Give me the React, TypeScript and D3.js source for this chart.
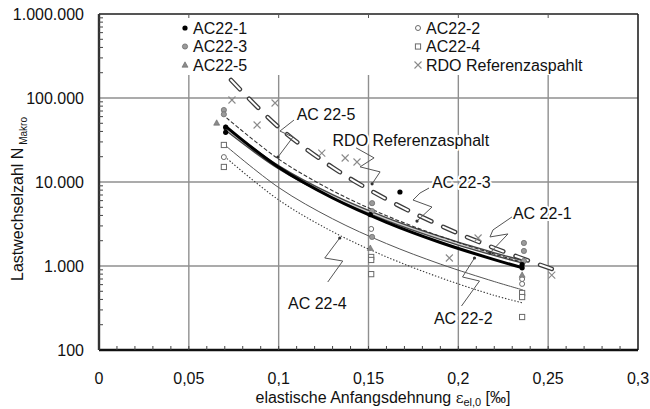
import React from 'react';
import * as d3 from 'd3';

// ---------- data ----------
const X_TICKS = [0, 0.05, 0.1, 0.15, 0.2, 0.25, 0.3];
const X_TICK_LABELS = ['0', '0,05', '0,1', '0,15', '0,2', '0,25', '0,3'];
const Y_TICKS = [100, 1000, 10000, 100000, 1000000];
const Y_TICK_LABELS = ['100', '1.000', '10.000', '100.000', '1.000.000'];

// fitted curves [strain, N]
const CURVE_AC22_1 = [[0.07, 47000], [0.1, 14950], [0.13, 6445], [0.16, 3309], [0.19, 1905], [0.22, 1191], [0.236, 950]];
const CURVE_AC22_3 = [[0.07, 44000], [0.1, 14980], [0.13, 6789], [0.16, 3624], [0.19, 2156], [0.22, 1386], [0.236, 1120]];
const CURVE_AC22_5 = [[0.071, 58000], [0.1, 18740], [0.13, 7882], [0.16, 3971], [0.19, 2252], [0.22, 1388], [0.236, 1100]];
const CURVE_AC22_2 = [[0.07, 27600], [0.1, 8597], [0.13, 3646], [0.16, 1849], [0.19, 1054], [0.22, 653], [0.236, 518]];
const CURVE_AC22_4 = [[0.07, 20000], [0.1, 6120], [0.13, 2562], [0.16, 1286], [0.19, 726], [0.22, 447], [0.236, 363]];
const CURVE_RDO = [[0.0735, 163700], [0.1, 44940], [0.13, 14930], [0.16, 6244], [0.19, 3031], [0.22, 1637], [0.252, 923]];

// measured points [strain, N]
const PTS_AC22_1 = [[0.0705, 45000], [0.0705, 39000], [0.151, 4100], [0.1675, 7600], [0.2355, 950], [0.2355, 1040]];
const PTS_AC22_3 = [[0.0695, 72000], [0.0695, 64000], [0.152, 5600], [0.152, 4500], [0.152, 2220], [0.2365, 1880], [0.2365, 1510], [0.2365, 1150]];
const PTS_AC22_5 = [[0.0655, 50400], [0.151, 1630], [0.2355, 780]];
const PTS_AC22_2 = [[0.0695, 19800], [0.1515, 2760], [0.2355, 612], [0.2355, 700]];
const PTS_AC22_4 = [[0.0695, 27600], [0.0695, 15100], [0.1515, 1280], [0.1515, 1180], [0.1515, 800], [0.2355, 477], [0.2355, 427], [0.2355, 247]];
const PTS_RDO = [[0.074, 94700], [0.088, 47700], [0.098, 87200], [0.124, 22100], [0.137, 19300], [0.1436, 17300], [0.195, 1245], [0.211, 2154], [0.252, 781]];

// annotations: label, label anchor [strain, N], target [strain, N], zigzag offsets (px, relative to target)
const ANN_LABELS = ['AC 22-5', 'RDO Referenzasphalt', 'AC 22-3', 'AC 22-1', 'AC 22-4', 'AC 22-2'];
const ANN_POS = [[0.110, 64500], [0.130, 31600], [0.1853, 10000], [0.2304, 4275], [0.1052, 363], [0.1864, 240]];
const ANN_TARGET = [[0.0996, 19800], [0.152, 9500], [0.177, 3430], [0.2176, 1430], [0.134, 2154], [0.209, 1245]];
const ANN_ZIG = [
  [[16, -37], [2, -26], [15, -20], [0, 0]],
  [[-16, -36], [2, -26], [-12, -17], [8, -12], [0, 0]],
  [[12, -33], [3, -28], [-4, -21], [15, -14], [0, 0]],
  [[22, -36], [3, -23], [0, -16], [18, -19], [0, 0]],
  [[-12, 44], [3, 23], [-15, 20], [0, 0]],
  [[-13, 48], [5, 23], [-12, 19], [0, 0]],
];

const LEGEND_NAMES = ['AC22-1', 'AC22-3', 'AC22-5', 'AC22-2', 'AC22-4', 'RDO Referenzaspahlt'];

// ---------- layout ----------
const W = 650, H = 409;
const L = 99, R = 638, T = 14, B = 350;
const FONT = 'Liberation Sans, Arial, Helvetica, sans-serif';

const x = d3.scaleLinear().domain([0, 0.3]).range([L, R]);
const y = d3.scaleLog().domain([100, 1000000]).range([B, T]);

const line = d3.line<number[]>().x(d => x(d[0])).y(d => y(d[1])).curve(d3.curveCatmullRom.alpha(0.5));

function Marker({ kind, cx, cy }: { kind: string; cx: number; cy: number }) {
  if (kind === 'black') return <circle cx={cx} cy={cy} r={2.6} fill="#000" />;
  if (kind === 'gray') return <circle cx={cx} cy={cy} r={2.6} fill="#9a9a9a" stroke="#6f6f6f" strokeWidth={0.8} />;
  if (kind === 'tri') return <path d={`M${cx},${cy - 3.2}L${cx + 3},${cy + 2.2}L${cx - 3},${cy + 2.2}Z`} fill="#8a8a8a" stroke="#666" strokeWidth={0.6} />;
  if (kind === 'ocircle') return <circle cx={cx} cy={cy} r={2.5} fill="#fff" stroke="#6a6a6a" strokeWidth={1} />;
  if (kind === 'osquare') return <rect x={cx - 2.6} y={cy - 2.6} width={5.2} height={5.2} fill="#fff" stroke="#6a6a6a" strokeWidth={1} />;
  // cross
  return <path d={`M${cx - 3.5},${cy - 3.5}L${cx + 3.5},${cy + 3.5}M${cx - 3.5},${cy + 3.5}L${cx + 3.5},${cy - 3.5}`} stroke="#8a8a8a" strokeWidth={1.1} fill="none" />;
}

export default function App() {
  const minorY: number[] = [];
  for (let d = 100; d < 1000000; d *= 10) for (let k = 2; k <= 9; k++) minorY.push(k * d);
  const minorX = d3.range(1, 30).map(i => i / 100);
  const legendTop = 75;

  const seriesPts: [number[][], string][] = [
    [PTS_AC22_4, 'osquare'], [PTS_AC22_2, 'ocircle'], [PTS_AC22_5, 'tri'],
    [PTS_AC22_3, 'gray'], [PTS_AC22_1, 'black'], [PTS_RDO, 'cross'],
  ];
  const legendKinds = ['black', 'gray', 'tri', 'ocircle', 'osquare', 'cross'];

  return (
    <svg width={W} height={H} style={{ position: 'absolute', left: 0, top: 0, background: '#fff' }} fontFamily={FONT}>
      <rect width={W} height={H} fill="#fff" />
      {/* grid */}
      {X_TICKS.slice(1, -1).map(v => (
        <line key={'gx' + v} x1={x(v)} x2={x(v)} y1={legendTop} y2={B} stroke="#8f8f8f" strokeWidth={1.4} />
      ))}
      {Y_TICKS.slice(1, -1).map(v => (
        <line key={'gy' + v} x1={L} x2={R} y1={y(v)} y2={y(v)} stroke="#8f8f8f" strokeWidth={1.4} />
      ))}

      {/* curves */}
      <path d={line(CURVE_AC22_4) || ''} fill="none" stroke="#3a3a3a" strokeWidth={1.1} strokeDasharray="1.4,1.8" />
      <path d={line(CURVE_AC22_2) || ''} fill="none" stroke="#555" strokeWidth={1} />
      <path d={line(CURVE_AC22_3) || ''} fill="none" stroke="#444" strokeWidth={4} />
      <path d={line(CURVE_AC22_3) || ''} fill="none" stroke="#cfcfcf" strokeWidth={1.4} />
      <path d={line(CURVE_AC22_1) || ''} fill="none" stroke="#000" strokeWidth={3} />
      <path d={line(CURVE_AC22_5) || ''} fill="none" stroke="#333" strokeWidth={1.1} strokeDasharray="4,2" />
      <path d={line(CURVE_RDO) || ''} fill="none" stroke="#3c3c3c" strokeWidth={4.6} strokeDasharray="13,13" strokeLinecap="round" />
      <path d={line(CURVE_RDO) || ''} fill="none" stroke="#fff" strokeWidth={2} strokeDasharray="13,13" strokeLinecap="round" />

      {/* points */}
      {seriesPts.map(([pts, kind], si) =>
        pts.map((p, i) => <Marker key={si + '-' + i} kind={kind} cx={x(p[0])} cy={y(p[1])} />)
      )}

      {/* annotations */}
      {ANN_LABELS.map((lab, i) => {
        const tx = x(ANN_TARGET[i][0]);
        const ty = y(ANN_TARGET[i][1]);
        const d = ANN_ZIG[i].map((o, j) => (j ? 'L' : 'M') + (tx + o[0]) + ',' + (ty + o[1])).join('');
        return (
          <g key={'a' + i}>
            <text x={x(ANN_POS[i][0])} y={y(ANN_POS[i][1])} dy="0.36em" fontSize={16} fill="#111"
              stroke="#fff" strokeWidth={4} paintOrder="stroke" strokeLinejoin="round">{lab}</text>
            <path d={d} fill="none" stroke="#555" strokeWidth={1} />
            <circle cx={tx} cy={ty} r={1.6} fill="#333" />
          </g>
        );
      })}

      {/* frame */}
      <line x1={L} x2={R} y1={T} y2={T} stroke="#555" strokeWidth={1.8} />
      <line x1={R} x2={R} y1={T} y2={B} stroke="#222" strokeWidth={1.6} />
      <line x1={L} x2={R} y1={B} y2={B} stroke="#111" strokeWidth={2.4} />
      <line x1={L} x2={L} y1={T} y2={B} stroke="#333" strokeWidth={2.4} />

      {/* ticks */}
      {minorY.map(v => <line key={'my' + v} x1={L} x2={L + 4} y1={y(v)} y2={y(v)} stroke="#444" strokeWidth={1} />)}
      {minorX.map(v => <line key={'mx' + v} x1={x(v)} x2={x(v)} y1={B} y2={B - 4} stroke="#444" strokeWidth={1} />)}
      {X_TICKS.slice(1, -1).map(v => <line key={'tx' + v} x1={x(v)} x2={x(v)} y1={T} y2={T + 4} stroke="#555" strokeWidth={1} />)}

      {/* tick labels */}
      {Y_TICKS.map((v, i) => (
        <text key={'yl' + v} x={L - 15} y={y(v)} dy="0.36em" textAnchor="end" fontSize={16} fill="#111">{Y_TICK_LABELS[i]}</text>
      ))}
      {X_TICKS.map((v, i) => (
        <text key={'xl' + v} x={x(v)} y={378} dy="0.36em" textAnchor="middle" fontSize={16} fill="#111">{X_TICK_LABELS[i]}</text>
      ))}

      {/* axis titles */}
      <text x={383} y={397} dy="0.36em" textAnchor="middle" fontSize={16} fill="#111">
        elastische Anfangsdehnung <tspan fontFamily="DejaVu Serif, serif" fontSize={15}>ε</tspan>
        <tspan fontSize={11} dy="3">el,0</tspan><tspan dy="-3"> [‰]</tspan>
      </text>
      <text transform={`translate(17,199) rotate(-90)`} textAnchor="middle" dy="0.36em" fontSize={16} fill="#111">
        Lastwechselzahl N<tspan fontSize={10} dy="4"> Makro</tspan>
      </text>

      {/* legend */}
      {LEGEND_NAMES.map((name, i) => {
        const col = i < 3 ? 0 : 1;
        const row = i % 3;
        const mx = col === 0 ? 185 : 418;
        const cy = 28 + row * 18.5;
        return (
          <g key={'lg' + i}>
            <Marker kind={legendKinds[i]} cx={mx} cy={cy} />
            <text x={mx + 8} y={cy} dy="0.36em" fontSize={16} fill="#111">{name}</text>
          </g>
        );
      })}
    </svg>
  );
}
